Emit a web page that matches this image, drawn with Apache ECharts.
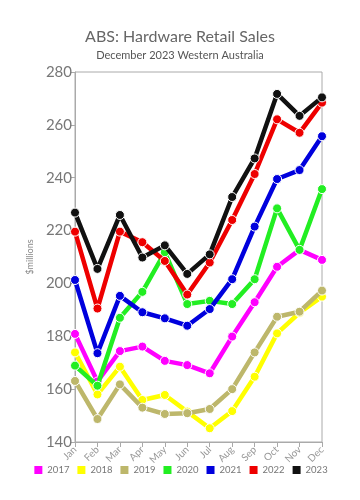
<!DOCTYPE html>
<html><head><meta charset="utf-8">
<script src="https://cdn.jsdelivr.net/npm/echarts@6/dist/echarts.min.js"></script>
<style>html,body{margin:0;padding:0;background:#fff}#c{width:360px;height:500px}</style>
</head><body><div id="c"></div>
<script>
var months = ['Jan','Feb','Mar','Apr','May','Jun','Jul','Aug','Sep','Oct','Nov','Dec'];
var years = ['2017','2018','2019','2020','2021','2022','2023'];
var colors = ['#ff00ff','#ffff00','#bdb76b','#22ee22','#0000dd','#ee0000','#111111'];
var s2017 = [180.9,162.9,174.4,176.1,170.7,169.1,166.0,179.9,192.9,206.3,212.7,208.9];
var s2018 = [173.9,158.0,168.5,155.9,157.8,151.5,145.2,151.7,164.7,181.1,188.9,195.0];
var s2019 = [163.1,148.7,161.8,153.0,150.6,150.9,152.5,160.0,173.9,187.4,189.3,197.3];
var s2020 = [168.9,161.3,187.0,196.8,211.8,192.2,193.4,192.2,201.6,228.4,212.7,235.7];
var s2021 = [201.3,173.6,195.3,189.1,186.8,184.0,190.3,201.6,221.5,239.5,242.9,255.7];
var s2022 = [219.6,190.5,219.6,215.6,208.5,195.8,207.9,224.0,241.4,262.1,257.0,268.4];
var s2023 = [226.8,205.5,225.9,209.8,214.4,203.6,211.0,232.7,247.3,271.7,263.4,270.4];
var yTicks = [140,160,180,200,220,240,260,280];
var allData = [s2017,s2018,s2019,s2020,s2021,s2022,s2023];
var font = 'Lato';
var chart = echarts.init(document.getElementById('c'));
chart.setOption({
  animation:false,
  backgroundColor:'#fff',
  title:{text:'ABS: Hardware Retail Sales', subtext:'December 2023 Western Australia', left:'center', top:24, itemGap:5,
    textStyle:{fontFamily:font, fontSize:16, fontWeight:'normal', color:'#666'},
    subtextStyle:{fontFamily:font, fontSize:11, color:'#555'}},
  legend:{top:459, left:'center', width:350, itemWidth:10, itemHeight:10, itemGap:6, icon:'rect',
    textStyle:{fontFamily:font, fontSize:9.5, color:'#777', padding:[0,0,0,-1]}, data:years},
  grid:{left:75, right:38, top:72, bottom:58, show:true, borderColor:'#aaa', borderWidth:1},
  xAxis:{type:'category', data:months, boundaryGap:false,
    axisLine:{lineStyle:{color:'#aaa'}}, axisTick:{show:true, alignWithLabel:true, lineStyle:{color:'#aaa'}},
    axisLabel:{rotate:45, fontFamily:font, fontSize:10, color:'#999', margin:6}},
  yAxis:{type:'value', min:yTicks[0], max:yTicks[yTicks.length-1], interval:20,
    name:'$millions', nameLocation:'middle', nameGap:30, nameTextStyle:{fontFamily:font, fontSize:9, color:'#888'},
    axisLine:{show:true, lineStyle:{color:'#aaa'}}, axisTick:{show:true, length:4, lineStyle:{color:'#aaa'}},
    splitLine:{show:false},
    axisLabel:{fontFamily:font, fontSize:15, color:'#777', margin:3}},
  series: years.map(function(y,i){return {
    name:y, type:'line', data:allData[i], symbol:'circle', symbolSize:9,
    lineStyle:{width:4.5, color:colors[i]},
    itemStyle:{color:colors[i], borderColor:'#fff', borderWidth:1},
    z:2+i
  };})
});
</script></body></html>
